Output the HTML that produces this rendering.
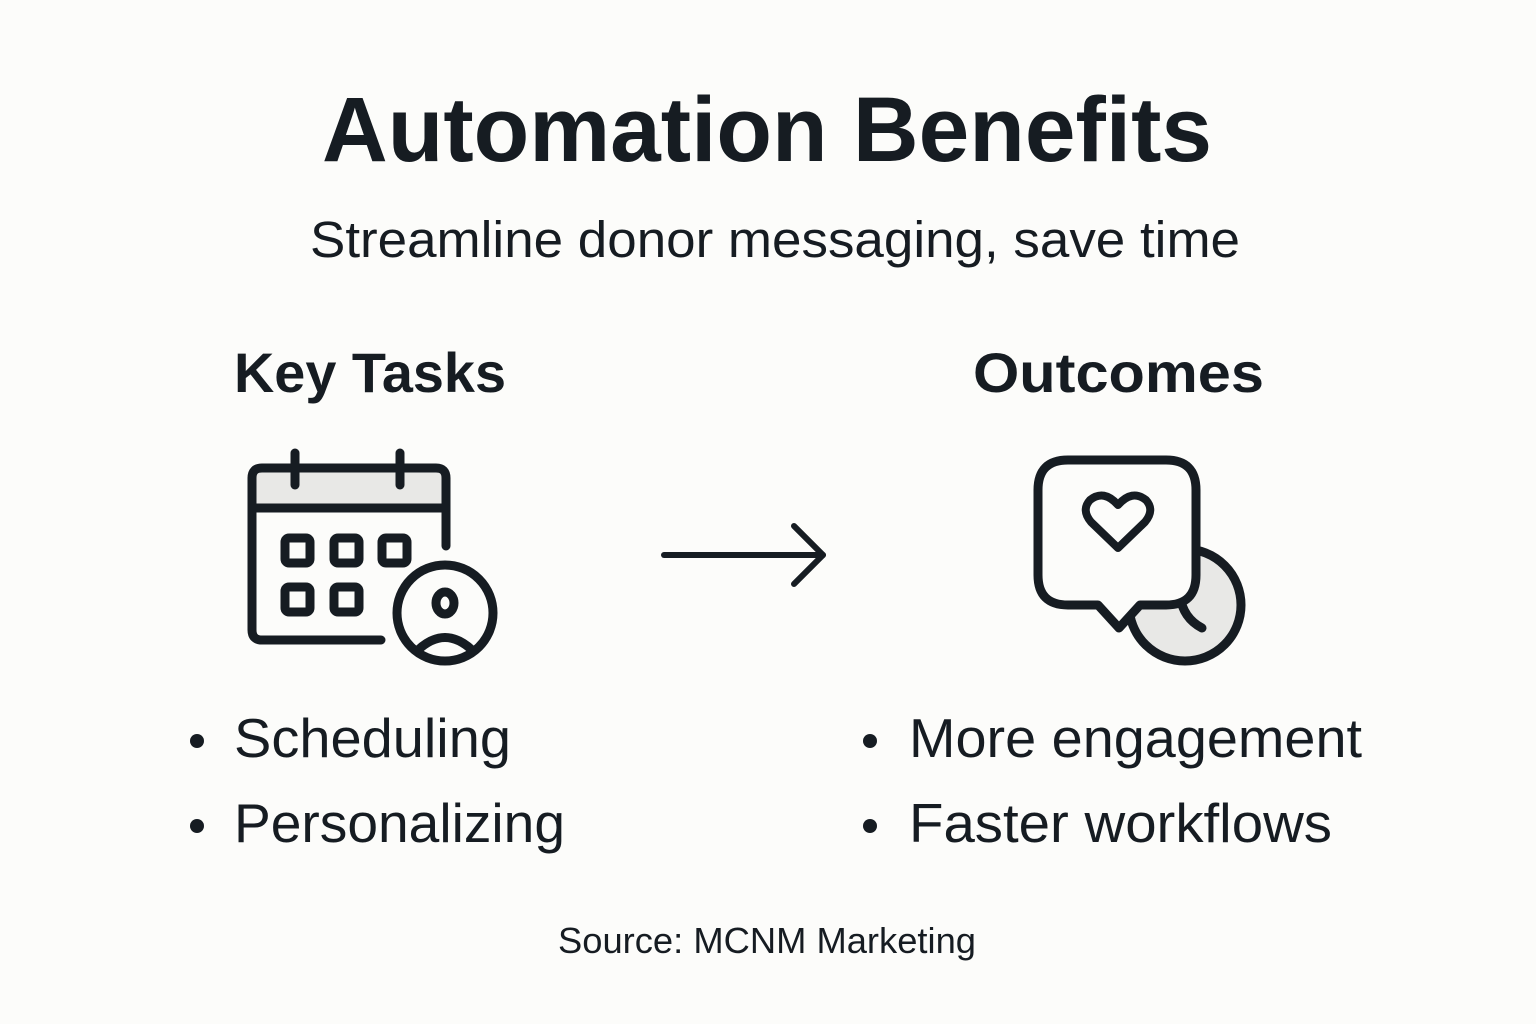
<!DOCTYPE html>
<html><head><meta charset="utf-8"><style>
html,body{margin:0;padding:0;background:#fcfcfa;}
svg{display:block;}
text{font-family:"Liberation Sans",sans-serif;fill:#161c22;}
</style></head><body>
<svg width="1536" height="1024" viewBox="0 0 1536 1024" xmlns="http://www.w3.org/2000/svg">
<rect width="1536" height="1024" fill="#fcfcfa"/>
<text x="322" y="161" font-size="92" font-weight="bold" textLength="890" lengthAdjust="spacingAndGlyphs">Automation Benefits</text>
<text x="310" y="257" font-size="51" textLength="930" lengthAdjust="spacingAndGlyphs">Streamline donor messaging, save time</text>
<text x="234" y="392" font-size="56" font-weight="bold" textLength="272" lengthAdjust="spacingAndGlyphs">Key Tasks</text>
<text x="973" y="392" font-size="56" font-weight="bold" textLength="291" lengthAdjust="spacingAndGlyphs">Outcomes</text>

<g fill="none" stroke="#161c22" stroke-width="9" stroke-linecap="round" stroke-linejoin="round">
<!-- calendar -->
<path d="M253 508 L446 508 L446 478 Q446 468 436 468 L262 468 Q253 468 253 478 Z" fill="#e8e8e6" stroke="none"/>
<path d="M446 546 L446 478 Q446 468 436 468 L262 468 Q252 468 252 478 L252 630 Q252 640 262 640 L381 640"/>
<line x1="252" y1="508" x2="446" y2="508"/>
<line x1="295" y1="453" x2="295" y2="485"/>
<line x1="400" y1="453" x2="400" y2="485"/>
<rect x="285" y="538" width="25" height="25" rx="4"/>
<rect x="334" y="538" width="25" height="25" rx="4"/>
<rect x="382" y="538" width="25" height="25" rx="4"/>
<rect x="285" y="587" width="25" height="25" rx="4"/>
<rect x="334" y="587" width="25" height="25" rx="4"/>
<circle cx="445" cy="613" r="48" fill="#fcfcfa"/>
<ellipse cx="445" cy="603" rx="9" ry="11"/>
<path d="M418 650 Q445 625 472 650"/>
<!-- arrow -->
<line x1="664" y1="555" x2="823" y2="555" stroke-width="6"/>
<polyline points="794,526 823,555 794,584" stroke-width="6"/>
<!-- clock -->
<circle cx="1185" cy="605" r="56" fill="#e8e8e6"/>
<path d="M1180 596 Q1183 618 1202 628"/>
<!-- bubble -->
<path d="M1068 460 L1166 460 Q1196 460 1196 490 L1196 575 Q1196 605 1166 605 L1140 605 L1119 628 L1098 605 L1068 605 Q1038 605 1038 575 L1038 490 Q1038 460 1068 460 Z" fill="#fcfcfa"/>
<path d="M1118 548 L1091 522 Q1081 510 1090 500 Q1104 489 1118 505 Q1132 489 1146 500 Q1155 510 1145 522 Z" stroke-width="8"/>
</g>

<circle cx="197" cy="741" r="7" fill="#161c22"/>
<circle cx="197" cy="826" r="7" fill="#161c22"/>
<circle cx="870" cy="741" r="7" fill="#161c22"/>
<circle cx="870" cy="826" r="7" fill="#161c22"/>
<text x="234" y="757" font-size="55" textLength="277" lengthAdjust="spacingAndGlyphs">Scheduling</text>
<text x="234" y="842" font-size="55" textLength="331" lengthAdjust="spacingAndGlyphs">Personalizing</text>
<text x="909" y="757" font-size="55" textLength="453" lengthAdjust="spacingAndGlyphs">More engagement</text>
<text x="909" y="842" font-size="55" textLength="423" lengthAdjust="spacingAndGlyphs">Faster workflows</text>
<text x="558" y="953" font-size="36" textLength="418" lengthAdjust="spacingAndGlyphs">Source: MCNM Marketing</text>
</svg>
</body></html>
